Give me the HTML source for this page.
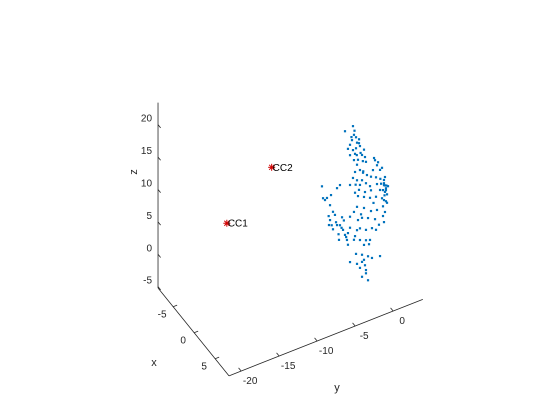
<!DOCTYPE html>
<html><head><meta charset="utf-8"><style>
html,body{margin:0;padding:0;background:#fff;}
svg{display:block;font-family:"Liberation Sans",Arial,sans-serif;}
</style></head><body>
<svg id="chart" width="560" height="420" viewBox="0 0 560 420" xmlns="http://www.w3.org/2000/svg">
<rect width="560" height="420" fill="#fff"/>
<g id="axes"></g>
<g id="points"></g>
<g id="centroids"></g>
</svg>
<script>
const xTicks=[-5,0,5];
const yTicks=[-20,-15,-10,-5,0];
const zTicks=[-5,0,5,10,15,20];
const xLim=[-8.6,8.3], yLim=[-21.6,3.9], zLim=[-5.2,23.4];
const ptY=[-0.70,-1.75,-0.57,-0.30,-0.83,-0.17,-1.09,0.09,-1.36,-0.70,-0.30,0.22,0.75,-0.43,-1.09,0.49,0.88,-0.57,-0.04,-0.17,1.01,2.07,0.22,-0.43,0.62,1.14,2.20,2.46,1.93,2.86,3.12,2.33,1.67,0.49,-0.17,-0.70,-1.09,0.22,1.01,1.54,2.46,3.38,3.38,3.64,3.51,2.86,1.67,0.88,0.09,-0.43,-0.04,0.75,1.54,2.33,3.12,3.38,3.78,3.25,2.46,1.67,0.75,-0.17,-0.57,0.36,1.28,2.20,3.25,3.38,2.72,1.80,1.01,-0.17,-0.43,0.22,0.75,1.54,2.33,3.51,3.25,3.91,-2.41,-2.80,-4.78,-4.12,-3.59,-4.64,-4.38,-3.72,-3.33,-3.07,-3.72,-3.86,-2.93,-2.41,-2.01,-1.75,-1.36,-1.09,-1.49,-1.36,-0.57,-0.04,-1.09,0.49,1.41,-2.54,-3.33,-2.80,-2.14,0.22,1.01,-0.30,0.49,1.28,-0.17,0.22,0.49,0.88,1.01,0.49,1.01,-1.09,1.80,2.86,0.75,1.28,3.51,3.64,3.38,3.78,3.51,3.64,-0.50,-0.90,0.10,-0.20,0.60,2.60,2.90,3.00,3.70,3.45,-2.20,-2.60,-1.90,-1.60,-3.90,-3.50,0.30,0.65,-0.35,2.00];
const ptZ=[17.0,16.7,15.6,15.1,14.9,14.2,14.3,14.0,13.8,13.3,13.4,13.5,12.7,12.6,12.7,12.0,11.5,11.7,11.5,10.8,10.7,10.8,9.8,9.8,9.2,8.6,10.4,9.5,9.0,8.6,8.8,7.7,8.1,8.1,8.4,9.0,8.1,7.5,7.4,6.7,6.6,6.8,6.0,5.4,4.9,5.5,6.0,6.1,6.8,6.6,5.9,5.4,4.9,4.7,4.1,3.7,3.1,2.8,2.6,2.8,3.7,4.3,3.7,2.9,1.9,1.3,1.3,0.3,0.2,0.1,0.2,0.7,-0.1,-1.0,-2.0,-1.6,-0.4,1.8,5.3,5.6,8.7,8.4,9.6,7.5,7.7,7.7,7.3,6.2,5.0,4.4,3.9,3.2,3.2,2.5,1.6,0.7,0.8,1.5,-0.2,-1.0,-0.6,2.2,3.2,2.3,-2.2,0.3,2.3,2.7,3.6,0.8,-1.4,-2.9,-3.4,-4.0,-4.5,-5.3,-4.5,-5.2,-6.5,-6.8,-6.0,-3.8,-4.5,-4.7,-4.3,-7.7,5.9,5.1,6.3,4.4,7.2,3.4,16.2,15.4,14.6,12.3,11.0,9.9,7.2,6.4,5.8,4.4,2.0,1.2,3.0,0.3,4.6,3.0,12.4,9.4,7.8,3.9];
const centroidNames=["CC1","CC2"];
const centroidX=[0,0];
const centroidY=[-17.3,-11.4];
const centroidZ=[9.7,15.6];

const NS="http://www.w3.org/2000/svg";
const X0=358.3,Y0=234.2;
function proj(x,y,z){return [X0+4.2*x+7.6*y, Y0+5.2*x-3*y-6.48*z];}
function mk(tag,attrs,parent){const e=document.createElementNS(NS,tag);for(const k in attrs)e.setAttribute(k,attrs[k]);parent.appendChild(e);return e;}
const axes=document.getElementById('axes');
const C="#262626";
function line(a,b,name){const l=mk('line',{x1:a[0],y1:a[1],x2:b[0],y2:b[1],stroke:C,'stroke-width':0.8},axes);

return l;}
function text(p,s,anchor,name,size){const t=mk('text',{x:p[0],y:p[1],'text-anchor':anchor,'font-size':size||10,fill:C},axes);t.textContent=s;

return t;}
line(proj(xLim[0],yLim[0],zLim[0]),proj(xLim[0],yLim[0],zLim[1]),'z-axis-line');
line(proj(xLim[0],yLim[0],zLim[0]),proj(xLim[1],yLim[0],zLim[0]),'x-axis-line');
line(proj(xLim[1],yLim[0],zLim[0]),proj(xLim[1],yLim[1],zLim[0]),'y-axis-line');
zTicks.forEach(v=>{const p=proj(xLim[0],yLim[0],v);line(p,[p[0]+2.6,p[1]+3.2],'z-tick');text([p[0]-6,p[1]-3],String(v),'end','z-tick-label');});
xTicks.forEach(v=>{const p=proj(v,yLim[0],zLim[0]);line(p,[p[0]+4,p[1]-1.6],'x-tick');text([p[0]-11,p[1]+11],String(v),'middle','x-tick-label');});
yTicks.forEach(v=>{const p=proj(xLim[1],v,zLim[0]);line(p,[p[0]-2.6,p[1]-3.2],'y-tick');text([p[0]+9,p[1]+13],String(v),'middle','y-tick-label');});
text([154,366],'x','middle','x-axis-title',11);
text([337,391],'y','middle','y-axis-title',11);
const zt=text([0,0],'z','middle','z-axis-title',11);
zt.setAttribute('transform','translate(137,172) rotate(-90)');
const pg=document.getElementById('points');
ptY.forEach((y,i)=>{const p=proj(0,y,ptZ[i]);const c=mk('rect',{x:p[0]-1.1,y:p[1]-1.1,width:2.2,height:2.2,fill:'#0072BD'},pg);

});
const cg=document.getElementById('centroids');
centroidNames.forEach((n,i)=>{const p=proj(centroidX[i],centroidY[i],centroidZ[i]);
const s=mk('g',{stroke:'#d00000','stroke-width':1},cg);


mk('line',{x1:p[0]-3.5,y1:p[1],x2:p[0]+3.5,y2:p[1]},s);
mk('line',{x1:p[0],y1:p[1]-3.5,x2:p[0],y2:p[1]+3.5},s);
mk('line',{x1:p[0]-2.5,y1:p[1]-2.5,x2:p[0]+2.5,y2:p[1]+2.5},s);
mk('line',{x1:p[0]-2.5,y1:p[1]+2.5,x2:p[0]+2.5,y2:p[1]-2.5},s);
const t=mk('text',{x:p[0]+1,y:p[1]+3.5,'font-size':10,fill:'#000'},cg);t.textContent=n;

});
</script>
</body></html>
